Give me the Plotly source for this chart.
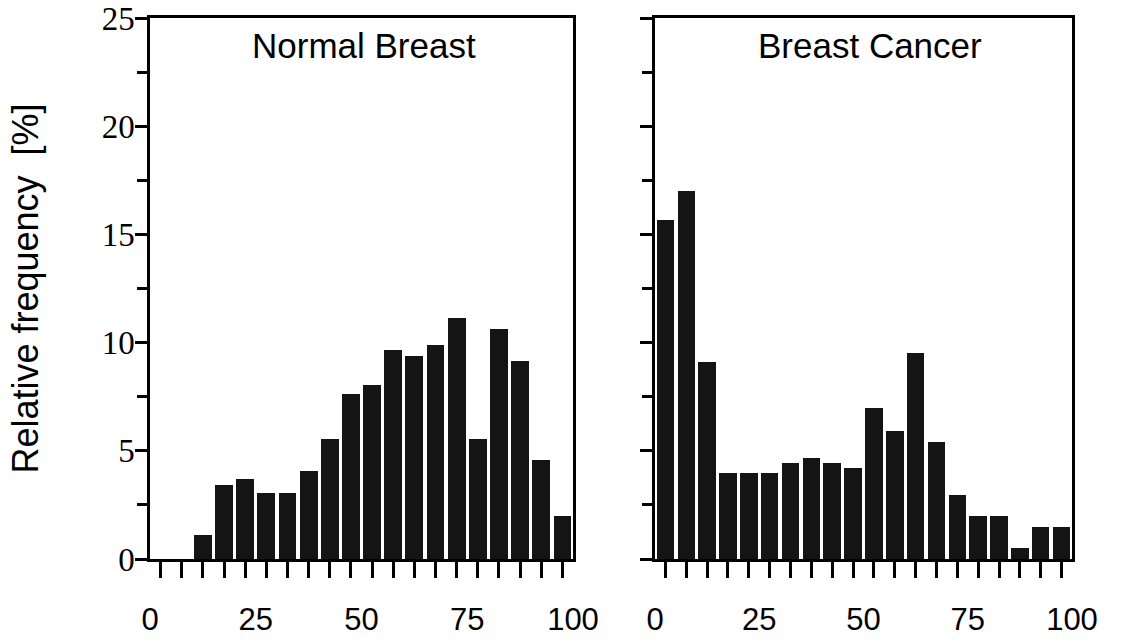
import plotly.graph_objects as go

bin_width = 5
bin_centers = [2.5 + 5 * i for i in range(20)]

normal_breast = [0, 0, 1.13, 3.44, 3.69, 3.07, 3.07, 4.06, 5.53, 7.64,
                 8.03, 9.66, 9.38, 9.89, 11.12, 5.53, 10.62, 9.15, 4.57, 2.0]
breast_cancer = [15.66, 17.0, 9.09, 3.96, 3.96, 3.96, 4.44, 4.69, 4.44, 4.2,
                 7.0, 5.9, 9.52, 5.4, 2.95, 1.99, 1.99, 0.51, 1.48, 1.48]

panel_titles = ["Normal Breast", "Breast Cancer"]
x_tick_vals = [0, 25, 50, 75, 100]
x_tick_text = ["0", "25", "50", "75", "100"]
y_tick_vals = [0, 5, 10, 15, 20, 25]
y_tick_text = ["0", "5", "10", "15", "20", "25"]
y_title = "Relative frequency  [%]"

W, H = 1136, 642
OFF = 0  # page body margin removed via post_script
BAR = "#141414"

fig = go.Figure()
fig.add_trace(go.Bar(x=bin_centers, y=normal_breast, width=bin_width * 0.84,
                     marker=dict(color=BAR, line=dict(width=0)),
                     xaxis="x", yaxis="y", showlegend=False))
fig.add_trace(go.Bar(x=bin_centers, y=breast_cancer, width=bin_width * 0.84,
                     marker=dict(color=BAR, line=dict(width=0)),
                     xaxis="x2", yaxis="y2", showlegend=False))

xdom1 = [(150 - OFF) / W, (573 - OFF) / W]
xdom2 = [(655 - OFF) / W, (1072 - OFF) / W]
ydom = [(H - (559 - OFF)) / H, (H - (18 - OFF)) / H]

xcommon = dict(
    range=[0, 100], showgrid=False, zeroline=False, automargin=False,
    showline=True, linecolor="black", linewidth=2.5, mirror=True,
    tickvals=x_tick_vals, ticktext=x_tick_text, ticks="",
    ticklabelstandoff=31,
    tickfont=dict(family="Liberation Sans, Arial, sans-serif", size=31, color="black"),
    minor=dict(tick0=2.5, dtick=bin_width, ticks="outside", ticklen=16,
               tickwidth=3, tickcolor="black", showgrid=False),
    fixedrange=True,
)
ycommon = dict(
    range=[0, 25], showgrid=False, zeroline=False, automargin=False,
    showline=True, linecolor="black", linewidth=2.5, mirror=True,
    tickvals=y_tick_vals, ticktext=y_tick_text, ticks="outside",
    ticklen=12, tickwidth=2.5, tickcolor="black",
    ticklabeloverflow="allow",
    tickfont=dict(family="Liberation Serif, Times New Roman, serif", size=33, color="black"),
    minor=dict(dtick=2.5, ticks="outside", ticklen=10, tickwidth=2.5,
               tickcolor="black", showgrid=False),
    fixedrange=True,
)

fig.update_layout(
    width=W, height=H,
    margin=dict(l=0, r=0, t=0, b=0),
    paper_bgcolor="white", plot_bgcolor="white",
    bargap=0,
    xaxis=dict(domain=xdom1, anchor="y", **xcommon),
    yaxis=dict(domain=ydom, anchor="x", ticklabelstandoff=-6,
               title=dict(text=y_title, standoff=53,
                          font=dict(family="Liberation Sans, Arial, sans-serif", size=36, color="black")),
               **ycommon),
    xaxis2=dict(domain=xdom2, anchor="y2", **xcommon),
    yaxis2=dict(domain=ydom, anchor="x2", showticklabels=False, **ycommon),
)

title_font = dict(family="Liberation Sans, Arial, sans-serif", size=35, color="black")
fig.add_annotation(text=panel_titles[0], xref="x domain", yref="y domain",
                   x=0.505, y=0.949, xanchor="center", yanchor="middle",
                   showarrow=False, font=title_font)
fig.add_annotation(text=panel_titles[1], xref="x2 domain", yref="y2 domain",
                   x=0.515, y=0.949, xanchor="center", yanchor="middle",
                   showarrow=False, font=title_font)

fig.write_html("out.html", config={"displayModeBar": False},
               post_script="document.body.style.margin='0';document.body.style.overflow='hidden';")
